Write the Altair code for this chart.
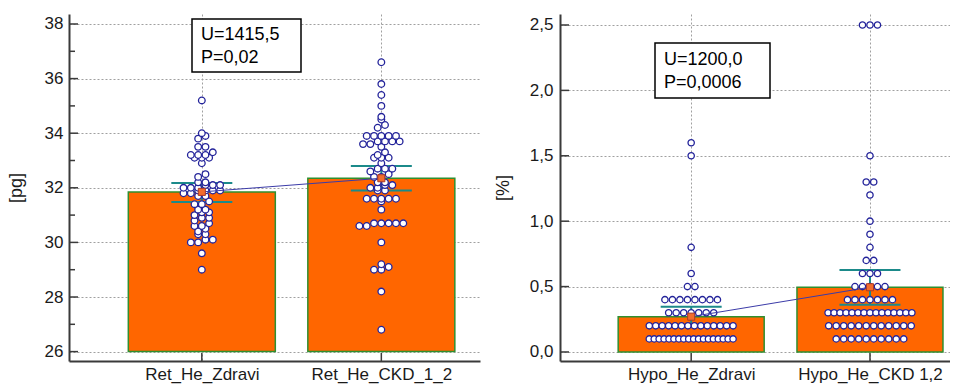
import json
import pandas as pd
import altair as alt

# ---------------- data ----------------
ret_groups = ["Ret_He_Zdravi", "Ret_He_CKD_1_2"]
ret_zdravi = [
    35.2,
    34.0, 33.9, 33.8,
    33.5, 33.5,
    33.3, 33.2, 33.2, 33.2,
    33.1, 33.1, 33.1,
    32.9,
    32.5, 32.4,
    32.2, 32.2, 32.1, 32.1, 32.1,
    32.0, 32.0, 32.0, 31.9, 31.9, 31.9, 31.9,
    31.8, 31.8, 31.7, 31.7,
    31.5, 31.4, 31.4,
    31.2, 31.2, 31.1, 31.1,
    31.0, 30.9, 30.9, 30.8,
    30.7, 30.6, 30.6, 30.5, 30.4, 30.3, 30.3,
    30.1, 30.1, 30.0, 30.0,
    29.6,
    29.0,
]
ret_ckd = [
    36.6, 35.8, 35.4, 35.0, 34.6, 34.5, 34.3, 34.2,
    33.9, 33.9, 33.9, 33.9, 33.9,
    33.7, 33.7, 33.7, 33.7,
    33.6, 33.6, 33.5,
    33.3,
    33.2, 33.1, 33.1, 33.1,
    32.9,
    32.7, 32.7, 32.7, 32.6,
    32.5, 32.4, 32.4,
    32.2, 32.2, 32.1, 32.1,
    32.0, 32.0, 31.9, 31.9,
    31.6, 31.6, 31.6, 31.6, 31.6, 31.5,
    31.2,
    30.7, 30.7, 30.7, 30.7, 30.7, 30.6, 30.6,
    30.0,
    29.2, 29.1, 29.0, 29.0,
    28.2,
    26.8,
]
ret_means = [31.85, 32.35]
ret_ci_low = [31.48, 31.90]
ret_ci_high = [32.18, 32.80]
ret_ticks_major = [26, 28, 30, 32, 34, 36, 38]
ret_ticks_minor = [27, 29, 31, 33, 35, 37]

hypo_groups = ["Hypo_He_Zdravi", "Hypo_He_CKD 1,2"]
hypo_zdravi = [
    0.1, 0.1, 0.1, 0.1, 0.1, 0.1, 0.1, 0.1, 0.1, 0.1, 0.1, 0.1, 0.1, 0.1, 0.1, 0.1, 0.1, 0.1,
    0.2, 0.2, 0.2, 0.2, 0.2, 0.2, 0.2, 0.2, 0.2, 0.2, 0.2, 0.2, 0.2, 0.2,
    0.3, 0.3, 0.3, 0.3, 0.3, 0.3, 0.3,
    0.4, 0.4, 0.4, 0.4, 0.4, 0.4, 0.4, 0.4,
    0.5, 0.5, 0.6, 0.8, 1.5, 1.6,
]
hypo_ckd = [
    0.1, 0.1, 0.1, 0.1, 0.1, 0.1, 0.1, 0.1, 0.1, 0.1,
    0.2, 0.2, 0.2, 0.2, 0.2, 0.2, 0.2, 0.2, 0.2, 0.2, 0.2, 0.2,
    0.3, 0.3, 0.3, 0.3, 0.3, 0.3, 0.3, 0.3, 0.3, 0.3, 0.3, 0.3, 0.3, 0.3, 0.3,
    0.4, 0.4, 0.4, 0.4, 0.4, 0.4, 0.4,
    0.5, 0.5, 0.5, 0.5, 0.5,
    0.6, 0.6, 0.6, 0.7, 0.7, 0.8, 0.9, 1.0, 1.2, 1.3, 1.3, 1.5,
    2.5, 2.5, 2.5,
]
hypo_means = [0.27, 0.495]
hypo_ci_low = [0.195, 0.362]
hypo_ci_high = [0.346, 0.627]
hypo_ticks_major = [0.0, 0.5, 1.0, 1.5, 2.0, 2.5]
hypo_ticks_minor = []

stat_U = ["U=1415,5", "U=1200,0"]
stat_P = ["P=0,02", "P=0,0006"]
y_titles = ["[pg]", "[%]"]

# ---------------- styling / layout ----------------
FONT = "Liberation Sans"
PLOT_H = 347
BAR_FILL = "#ff6600"
BAR_STROKE = "#2f8f2f"
TEAL = "#1b8a8a"
DOT_STROKE = "#23239a"
LINE_C = "#3b3ba8"
AXIS_C = "#3a3a3a"
GRID_C = "#a0a0a0"


def swarm(values, pos, bin_tenths, sp_px, maxw_px, step_px):
    bins = {}
    for v in sorted(values):
        b = int(round(v * 10)) // bin_tenths
        bins.setdefault(b, []).append(v)
    rows = []
    for b in sorted(bins):
        vs = bins[b]
        n = len(vs)
        s = sp_px if n < 2 else min(sp_px, maxw_px / (n - 1))
        for i, v in enumerate(vs):
            off = (i - (n - 1) / 2) * s
            rows.append({"x": pos + off / step_px, "v": v})
    return rows


def panel(groups, series, means, lo, hi, base, ydom, tmaj, tmin, ytitle,
          ylabel_expr, W, left_px, step_px, bar_w, bin_tenths, sp_px, maxw_px,
          dot_size, idx, box, title_pad, label_pad):
    xdom = [-left_px / step_px, (W - left_px) / step_px]
    xs = alt.Scale(domain=xdom, nice=False, zero=False)
    ys = alt.Scale(domain=ydom, nice=False, zero=False)

    df_m = pd.DataFrame({"pos": list(range(len(groups))), "mean": means,
                         "lo": lo, "hi": hi, "base": [base] * len(groups)})
    dots = []
    for i, vals in enumerate(series):
        dots += swarm(vals, i, bin_tenths, sp_px, maxw_px, step_px)
    df_d = pd.DataFrame(dots)

    x_axis = alt.Axis(values=list(range(len(groups))),
                      labelExpr=json.dumps(groups) + "[round(datum.value)]",
                      title=None, ticks=False, grid=True, gridColor=GRID_C,
                      gridDash=[2, 2], gridWidth=1, domainColor=AXIS_C,
                      domainWidth=2, labelFont=FONT, labelFontSize=17,
                      labelColor="#1a1a1a", labelPadding=5)
    y_axis = alt.Axis(values=tmaj, labelExpr=ylabel_expr, title=ytitle,
                      ticks=False, grid=True, gridColor=GRID_C, gridDash=[2, 2],
                      gridWidth=1, domainColor=AXIS_C, domainWidth=2,
                      labelFont=FONT, labelFontSize=17, labelColor="#1a1a1a",
                      labelPadding=label_pad, titleFont=FONT, titleFontSize=18,
                      titleFontWeight="normal", titleColor="#1a1a1a",
                      titlePadding=title_pad)

    def X(f):
        return alt.X(f, type="quantitative", scale=xs, axis=x_axis)

    def Y(f):
        return alt.Y(f, type="quantitative", scale=ys, axis=y_axis)

    bars = alt.Chart(df_m).mark_bar(
        width=bar_w, color=BAR_FILL, stroke=BAR_STROKE, strokeWidth=1.5
    ).encode(x=X("pos"), y=Y("mean"), y2="base:Q")
    ci_v = alt.Chart(df_m).mark_rule(color=TEAL, strokeWidth=2).encode(
        x=X("pos"), y=Y("lo"), y2="hi:Q")
    ci_t = alt.Chart(df_m).transform_fold(["lo", "hi"], as_=["k", "ci"]).mark_tick(
        orient="horizontal", size=61, thickness=2, color=TEAL, opacity=1
    ).encode(x=X("pos"), y=Y("ci"))
    pts = alt.Chart(df_d).mark_point(
        shape="circle", filled=True, fill="white", stroke=DOT_STROKE,
        strokeWidth=1.3, size=dot_size, opacity=1
    ).encode(x=X("x"), y=Y("v"))
    line = alt.Chart(df_m).mark_line(color=LINE_C, strokeWidth=1).encode(
        x=X("pos"), y=Y("mean"), order="pos:Q")
    marker = alt.Chart(df_m).mark_square(
        size=50, fill="#f26c2c", stroke="#a83a2a", strokeWidth=1, opacity=1
    ).encode(x=X("pos"), y=Y("mean"))

    df_t1 = pd.DataFrame({"t": tmaj})
    tick_major = alt.Chart(df_t1).mark_rule(color=AXIS_C, strokeWidth=1.5).encode(
        y=Y("t"), x=alt.value(0), x2=alt.value(9))
    layers = [bars, ci_v, ci_t, pts, line, marker, tick_major]
    if tmin:
        df_t2 = pd.DataFrame({"t": tmin})
        layers.append(alt.Chart(df_t2).mark_rule(color=AXIS_C, strokeWidth=1.5).encode(
            y=Y("t"), x=alt.value(0), x2=alt.value(6)))
    xt = alt.Chart(df_m).mark_rule(color=AXIS_C, strokeWidth=1.5).encode(
        x=X("pos"), y=alt.value(PLOT_H), y2=alt.value(PLOT_H - 8))
    layers.append(xt)

    df_s = pd.DataFrame({"U": [stat_U[idx]], "P": [stat_P[idx]]})
    bx0, bx1, by0, by1, tx, ty1, ty2 = box
    rect = alt.Chart(df_s).mark_rect(fill="white", stroke="black", strokeWidth=1.5).encode(
        x=alt.value(bx0), x2=alt.value(bx1), y=alt.value(by0), y2=alt.value(by1))
    t1 = alt.Chart(df_s).mark_text(align="left", baseline="middle", font=FONT,
                                   fontSize=18, color="black").encode(
        x=alt.value(tx), y=alt.value(ty1), text="U:N")
    t2 = alt.Chart(df_s).mark_text(align="left", baseline="middle", font=FONT,
                                   fontSize=18, color="black").encode(
        x=alt.value(tx), y=alt.value(ty2), text="P:N")
    layers += [rect, t1, t2]
    return alt.layer(*layers).properties(width=W, height=PLOT_H)


left = panel(ret_groups, [ret_zdravi, ret_ckd], ret_means, ret_ci_low, ret_ci_high,
             26, [25.656, 38.366], ret_ticks_major, ret_ticks_minor, y_titles[0],
             "format(datum.value, 'd')", 411, 131, 184, 147, 2, 7.5, 60, 44, 0,
             (123, 232, 5, 58, 132, 21, 44), 19, 6)
right = panel(hypo_groups, [hypo_zdravi, hypo_ckd], hypo_means, hypo_ci_low,
              hypo_ci_high, 0, [-0.069, 2.584], hypo_ticks_major, hypo_ticks_minor,
              y_titles[1], "replace(format(datum.value, '.1f'), '.', ',')",
              390, 129.5, 183.5, 146, 1, 7.7, 86, 40, 1,
              (95, 210, 29, 84, 104, 46, 69), 17, 7)

chart = alt.hconcat(left, right, spacing=14).properties(
    padding={"left": 7, "top": 14, "right": 0, "bottom": 3}
).configure_view(stroke=None)

chart.save("out.html", embed_options={"renderer": "svg", "actions": False})
